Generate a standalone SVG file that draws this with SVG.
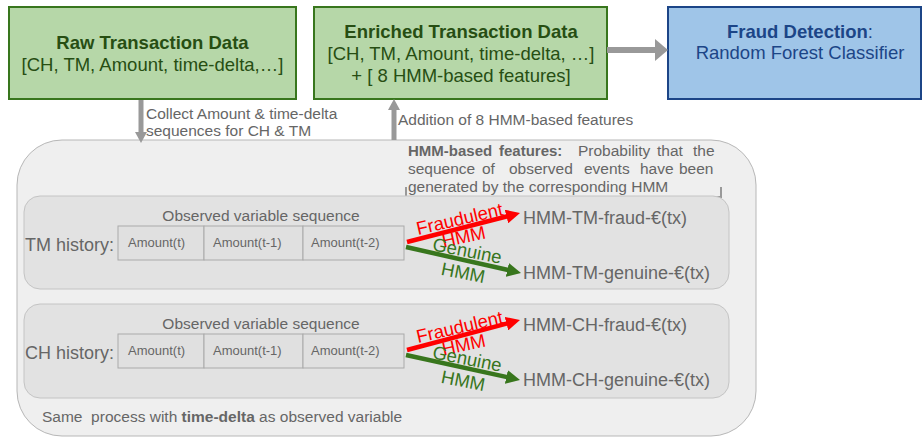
<svg xmlns="http://www.w3.org/2000/svg" width="924" height="438" viewBox="0 0 924 438">
<style>
text{font-family:"Liberation Sans",Arial,sans-serif}
.g{fill:#b6d7a8;stroke:#38761d;stroke-width:2}
.gt{fill:#274e13;font-size:18.5px;text-anchor:middle}
.bt{fill:#1c4587;font-size:18.5px;text-anchor:middle}
.b{font-weight:bold}
.gray{fill:#666;font-size:15.5px}
.nb{font-weight:bold;font-size:15px}
.lbl{fill:#666;font-size:18px}
.cell{fill:#e0e0e0;stroke:#aaa;stroke-width:1}
.ct{fill:#666;font-size:13px}
.row{fill:#e2e2e2;stroke:#c4c4c4;stroke-width:1}
.ga{stroke:#999;fill:none}
.red{stroke:#ff0000;stroke-width:4.5;fill:none}
.grn{stroke:#38761d;stroke-width:4.5;fill:none}
.rl{fill:#ff0000;font-size:18.5px;text-anchor:middle}
.gl{fill:#38761d;font-size:18.5px;text-anchor:middle}
</style>
<defs>
<marker id="mr" markerUnits="userSpaceOnUse" markerWidth="16" markerHeight="14" refX="2" refY="7" orient="auto"><path d="M0,0 L14,7 L0,14 z" fill="#ff0000"/></marker>
<marker id="mg" markerUnits="userSpaceOnUse" markerWidth="16" markerHeight="14" refX="2" refY="7" orient="auto"><path d="M0,0 L14,7 L0,14 z" fill="#38761d"/></marker>
</defs>

<g id="container">
<rect x="17" y="140" width="739" height="296" rx="45" fill="#efefef" stroke="#b7b7b7" stroke-width="1"/>
<text class="gray" x="42" y="422" xml:space="preserve">Same  process with <tspan class="b">time-delta</tspan> as observed variable</text>
</g>

<g id="raw">
<rect class="g" x="9" y="7" width="287" height="92"/>
<text class="gt b" x="152.5" y="49">Raw Transaction Data</text>
<text class="gt" x="152.5" y="71">[CH, TM, Amount, time-delta,…]</text>
</g>

<g id="enriched">
<rect class="g" x="314" y="7" width="293" height="92"/>
<text class="gt b" x="461" y="38">Enriched Transaction Data</text>
<text class="gt" x="461" y="60">[CH, TM, Amount, time-delta, …]</text>
<text class="gt" x="461" y="82">+ [ 8 HMM-based features]</text>
</g>

<g id="fraud">
<rect x="668" y="7" width="253" height="92" fill="#9fc5e8" stroke="#1c4587" stroke-width="2"/>
<text class="bt" x="800" y="38"><tspan class="b">Fraud Detection</tspan>:</text>
<text class="bt" x="800" y="59">Random Forest Classifier</text>
</g>

<g id="hmm-note">
<path class="ga" stroke-width="2" d="M406,187 V197 H721 V187 M567,197 V208"/>
<text class="gray" y="156"><tspan class="nb" x="408">HMM-based</tspan><tspan class="nb" x="499">features:</tspan><tspan x="578">Probability</tspan><tspan x="657">that</tspan><tspan x="693">the</tspan></text>
<text class="gray" y="174"><tspan x="408">sequence</tspan><tspan x="482">of</tspan><tspan x="509">observed</tspan><tspan x="584">events</tspan><tspan x="640">have</tspan><tspan x="679">been</tspan></text>
<text class="gray" x="408" y="192">generated by the corresponding HMM</text>
</g>

<g id="tm-history">
<rect class="row" x="24" y="196" width="705" height="93" rx="16"/>
<text class="gray" x="261" y="221" text-anchor="middle">Observed variable sequence</text>
<text class="lbl" x="25" y="251">TM history:</text>
<rect class="cell" x="118" y="226" width="86" height="34"/>
<rect class="cell" x="204" y="226" width="99" height="34"/>
<rect class="cell" x="303" y="226" width="101" height="34"/>
<text class="ct" x="128" y="247">Amount(t)</text>
<text class="ct" x="213" y="247">Amount(t-1)</text>
<text class="ct" x="311" y="247">Amount(t-2)</text>
<text class="lbl" x="523" y="224">HMM-TM-fraud-€(tx)</text>
<text class="lbl" x="523" y="279">HMM-TM-genuine-€(tx)</text>
</g>

<g id="ch-history">
<rect class="row" x="24" y="304" width="705" height="94" rx="16"/>
<text class="gray" x="261" y="329" text-anchor="middle">Observed variable sequence</text>
<text class="lbl" x="25" y="359">CH history:</text>
<rect class="cell" x="118" y="334" width="86" height="34"/>
<rect class="cell" x="204" y="334" width="99" height="34"/>
<rect class="cell" x="303" y="334" width="101" height="34"/>
<text class="ct" x="128" y="355">Amount(t)</text>
<text class="ct" x="213" y="355">Amount(t-1)</text>
<text class="ct" x="311" y="355">Amount(t-2)</text>
<text class="lbl" x="523" y="331">HMM-CH-fraud-€(tx)</text>
<text class="lbl" x="523" y="386">HMM-CH-genuine-€(tx)</text>
</g>

<g id="connectors">
<line class="ga" stroke-width="5" x1="141" y1="100" x2="141" y2="133"/>
<polygon points="135,132 147,132 141,143" fill="#999"/>
<text class="gray" x="146" y="119">Collect Amount &amp; time-delta</text>
<text class="gray" x="146" y="136">sequences for CH &amp; TM</text>

<line class="ga" stroke-width="5" x1="394" y1="140" x2="394" y2="109"/>
<polygon points="388,110 400,110 394,99" fill="#999"/>
<text class="gray" x="398" y="125">Addition of 8 HMM-based features</text>

<line class="ga" stroke-width="6" x1="607" y1="50" x2="656" y2="50"/>
<polygon points="655,39 655,61 668,50" fill="#999"/>

<line class="red" x1="407" y1="242" x2="508.4" y2="216" marker-end="url(#mr)"/>
<line class="grn" x1="406" y1="247" x2="509.3" y2="270.3" marker-end="url(#mg)"/>
<line class="red" x1="407" y1="350" x2="508.4" y2="323.1" marker-end="url(#mr)"/>
<line class="grn" x1="406" y1="355" x2="508.3" y2="377.4" marker-end="url(#mg)"/>

<text class="rl" transform="translate(461,225) rotate(-13)">Fraudulent</text>
<text class="rl" transform="translate(465,243) rotate(-12)">HMM</text>
<text class="gl" transform="translate(466,257) rotate(11)">Genuine</text>
<text class="gl" transform="translate(462,279) rotate(11)">HMM</text>

<text class="rl" transform="translate(461,333) rotate(-13)">Fraudulent</text>
<text class="rl" transform="translate(465,351) rotate(-12)">HMM</text>
<text class="gl" transform="translate(466,365) rotate(11)">Genuine</text>
<text class="gl" transform="translate(462,387) rotate(11)">HMM</text>
</g>
</svg>
